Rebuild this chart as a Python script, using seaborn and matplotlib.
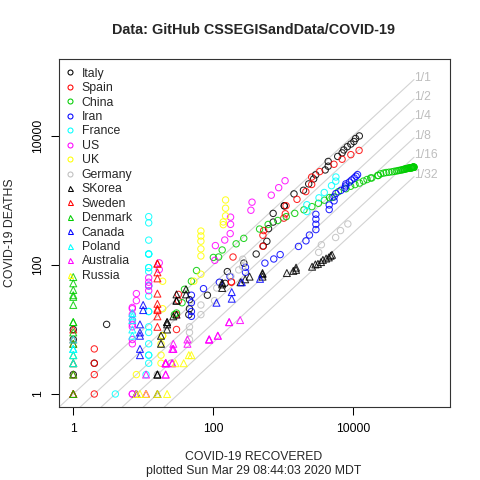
# COVID-19 deaths vs recovered, log-log, one series per country
import numpy as np
import pandas as pd
import matplotlib
matplotlib.use('Agg')
import matplotlib.pyplot as plt
from matplotlib.lines import Line2D
from matplotlib.ticker import NullLocator
import seaborn as sns

# Data (cumulative recovered, cumulative deaths)
rec_italy = [1, 2, 1, 1, 3, 45, 46, 46, 83, 149, 160, 276, 414, 523, 589, 622, 724, 724,
             1045, 1045, 1439, 1966, 2335, 2749, 2941, 4025, 4440, 4440, 6072, 7024, 7432,
             8326, 9362, 10361, 10950, 12384]
dea_italy = [2, 3, 7, 10, 12, 17, 21, 29, 34, 52, 79, 107, 148, 197, 233, 366, 463, 631,
             827, 827, 1266, 1441, 1809, 2158, 2503, 2978, 3405, 4032, 4825, 5476, 6077,
             6820, 7503, 8215, 9134, 10023]

rec_spain = [2, 2, 2, 2, 30, 30, 32, 32, 183, 183, 193, 517, 517, 530, 1028, 1081, 1107,
             1588, 2125, 2575, 2575, 3355, 5367, 7015, 9357, 12285]
dea_spain = [1, 2, 3, 5, 10, 17, 28, 35, 54, 55, 133, 195, 289, 342, 533, 623, 830,
             1043, 1375, 1772, 2311, 2808, 3647, 4365, 5138, 5982]

rec_china = [28, 30, 36, 39, 49, 58, 101, 120, 135, 214, 275, 463, 614, 843, 1115, 1476,
             1998, 2595, 3218, 3917, 4635, 5079, 6213, 7973, 9294, 10748, 12455, 14199,
             15952, 18002, 18693, 22687, 23170, 24990, 27650, 30053, 32898, 36291, 39279,
             42118, 44810, 47404, 49955, 52240, 53888, 55478, 57320, 58735, 60106, 61644,
             62901, 64196, 65660, 67017, 67910, 68798, 69755, 70535, 71266, 71857, 72362,
             72814, 73280, 73773, 74181, 74720, 75100]
dea_china = [17, 18, 26, 42, 56, 82, 131, 133, 171, 213, 259, 361, 425, 490, 562, 632,
             717, 804, 904, 1011, 1111, 1116, 1368, 1520, 1662, 1765, 1863, 2002,
             2114, 2236, 2236, 2441, 2443, 2593, 2663, 2715, 2744, 2788, 2835,
             2870, 2912, 2945, 2981, 3013, 3042, 3070, 3097, 3120, 3136, 3158,
             3169, 3176, 3189, 3199, 3213, 3226, 3237, 3245, 3249, 3253, 3259,
             3274, 3274, 3281, 3285, 3291, 3296]

rec_iran = [49, 49, 49, 49, 73, 123, 175, 291, 291, 552, 739, 913, 1669, 2134, 2394,
            2959, 2959, 2959, 2959, 4590, 4590, 5389, 5389, 5710, 6745, 7635, 7931, 7931,
            8913, 9625, 10457, 11133, 11679]
dea_iran = [16, 19, 26, 34, 43, 54, 66, 77, 92, 107, 124, 145, 194, 237, 291,
            354, 429, 514, 611, 724, 853, 988, 1135, 1284, 1433, 1556, 1685, 1812,
            1934, 2077, 2234, 2378, 2517]

rec_france = [4, 11, 12, 12, 12, 12, 12, 12, 12, 12, 12, 12, 12, 12, 12, 12, 12, 12, 12,
              12, 12, 12, 2200, 2200, 3281, 3900, 4948, 5700, 5724]
dea_france = [1, 2, 3, 4, 4, 6, 9, 11, 19, 19, 33, 48, 48, 79, 91, 91, 148, 148, 148,
              243, 450, 562, 674, 860, 1100, 1331, 1696, 1995, 2314]

rec_us = [7, 7, 7, 7, 7, 7, 7, 7, 7, 7, 8, 8, 12, 12, 12, 12, 17, 17, 106, 108, 147,
          176, 178, 178, 348, 361, 681, 869, 1072]
dea_us = [1, 1, 6, 7, 11, 12, 14, 17, 21, 22, 28, 36, 40, 47, 54, 63, 85, 108, 118, 200,
          244, 307, 427, 552, 706, 942, 1209, 1581, 2026]

rec_uk = [8, 18, 18, 18, 19, 19, 19, 19, 53, 67, 67, 67, 67, 67, 67, 140, 140, 151, 151, 151]
dea_uk = [2, 3, 4, 6, 8, 8, 21, 56, 56, 72, 138, 178, 234, 282, 336, 422, 465, 578, 759, 1019]

rec_germany = [16, 16, 25, 25, 46, 46, 46, 67, 67, 105, 113, 180, 233, 266, 266, 3243,
               3547, 5673, 6658, 8481]
dea_germany = [2, 2, 3, 3, 7, 9, 11, 17, 24, 28, 44, 67, 84, 94, 123, 157, 206, 267, 342, 433]

rec_skorea = [16, 16, 16, 18, 18, 22, 22, 22, 22, 27, 30, 30, 30, 30, 41, 41, 135, 135,
              135, 247, 288, 333, 510, 510, 510, 1137, 1407, 1540, 1540, 2612, 2909,
              3166, 3507, 3730, 4144, 4528, 4811, 5033]
dea_skorea = [1, 2, 2, 6, 8, 10, 12, 13, 13, 16, 17, 28, 28, 35, 35, 42, 44, 50, 53, 54,
              60, 66, 66, 72, 75, 75, 81, 84, 91, 94, 102, 104, 111, 120, 126, 131, 139, 144]

rec_sweden = [1, 1, 1, 1, 1, 1, 1, 1, 16, 16, 16, 16, 16, 16, 16, 16, 16, 16]
dea_sweden = [1, 1, 1, 2, 3, 6, 7, 10, 11, 16, 20, 21, 25, 36, 62, 77, 105, 105]

rec_denmark = [1, 1, 1, 1, 1, 1, 1, 1, 1, 1, 1, 1, 1, 1]
dea_denmark = [1, 2, 3, 4, 6, 9, 13, 13, 24, 32, 34, 41, 52, 65]

rec_canada = [8, 8, 8, 8, 9, 9, 9, 9, 9, 10, 10, 112, 185, 185, 258, 470]
dea_canada = [1, 1, 1, 1, 4, 5, 8, 9, 12, 20, 24, 26, 30, 38, 54, 61]

rec_poland = [1, 1, 1, 1, 1, 1, 7, 7, 7, 7, 7]
dea_poland = [3, 4, 5, 5, 5, 7, 8, 10, 14, 16, 18]

rec_australia = [8, 11, 11, 11, 11, 21, 21, 21, 21, 21, 21, 21, 26, 26, 26, 27, 27, 27,
                 43, 43, 88, 88, 88, 117, 117, 170, 170, 244]
dea_australia = [1, 1, 1, 1, 2, 2, 2, 3, 3, 3, 3, 3, 3, 3, 5, 5, 5, 6, 6, 7, 7, 7, 7,
                 8, 8, 13, 13, 14]

rec_russia = [8, 9, 11, 16, 22, 29, 38, 45, 49]
dea_russia = [1, 1, 1, 1, 1, 3, 3, 4, 4]

countries = ['Italy', 'Spain', 'China', 'Iran', 'France', 'US', 'UK', 'Germany',
             'SKorea', 'Sweden', 'Denmark', 'Canada', 'Poland', 'Australia', 'Russia']
recovered = [rec_italy, rec_spain, rec_china, rec_iran, rec_france, rec_us, rec_uk,
             rec_germany, rec_skorea, rec_sweden, rec_denmark, rec_canada, rec_poland,
             rec_australia, rec_russia]
deaths = [dea_italy, dea_spain, dea_china, dea_iran, dea_france, dea_us, dea_uk,
          dea_germany, dea_skorea, dea_sweden, dea_denmark, dea_canada, dea_poland,
          dea_australia, dea_russia]

ratio_den = [1, 2, 4, 8, 16, 32]
ratio_labels = ['1/1', '1/2', '1/4', '1/8', '1/16', '1/32']

# R default palette, circles for the first 8, triangles after
r_palette = ['black', '#FF0000', '#00CD00', '#0000FF', '#00FFFF', '#FF00FF', '#FFFF00', '#BEBEBE']
colors = [r_palette[i % 8] for i in range(len(countries))]
markers = ['o' if i < 8 else '^' for i in range(len(countries))]

df = pd.concat([pd.DataFrame({'country': c, 'recovered': r, 'deaths': d})
                for c, r, d in zip(countries, recovered, deaths)], ignore_index=True)

# Plot
sns.set_style('white')
plt.rcParams['font.family'] = ['Liberation Sans', 'DejaVu Sans']

fig = plt.figure(figsize=(4.8, 4.8), dpi=100)
ax = fig.add_axes([59 / 480, 73 / 480, 391 / 480, 348 / 480])
ax.set_xscale('log')
ax.set_yscale('log')

# reference lines deaths = recovered / k
xmax = df['recovered'].max()
for k, lab in zip(ratio_den, ratio_labels):
    ax.plot([0.3, xmax], [0.3 / k, xmax / k], color='#D3D3D3', lw=0.8, zorder=1)
    ax.text(xmax * 0.99, xmax / k * 1.07, lab, ha='left', va='center',
            color='#BEBEBE', fontsize=8.8, zorder=1)

for c, col, m in zip(countries, colors, markers):
    sub = df[df['country'] == c]
    sns.scatterplot(data=sub, x='recovered', y='deaths', ax=ax, marker=m,
                    s=21 if m == 'o' else 25, color=col, facecolor='none',
                    edgecolor=col, linewidth=0.75, alpha=0.85, legend=False, zorder=3)

ax.set_xlim(10 ** -0.204, 10 ** 5.39)
ax.set_ylim(10 ** -0.2016, 10 ** 5.194)
ax.set_xticks([1, 100, 10000], labels=['1', '100', '10000'])
ax.set_yticks([1, 100, 10000], labels=['1', '100', '10000'])
ax.xaxis.set_minor_locator(NullLocator())
ax.yaxis.set_minor_locator(NullLocator())
ax.tick_params(axis='both', direction='out', length=5.5, width=0.75, colors='black',
               labelsize=8.8, bottom=True, left=True)
ax.tick_params(axis='x', pad=6)
ax.tick_params(axis='y', pad=5, labelrotation=90)
for t in ax.get_yticklabels():
    t.set_va('center')
ax.set_xlabel('')
ax.set_ylabel('')
for sp in ax.spines.values():
    sp.set_color('#333333')
    sp.set_linewidth(0.8)

handles = [Line2D([], [], linestyle='none', marker=m, markersize=3.6,
                  markerfacecolor='none', markeredgecolor=col, markeredgewidth=0.75)
           for col, m in zip(colors, markers)]
ax.legend(handles, countries, loc='upper left', bbox_to_anchor=(0.013, 0.975),
          frameon=False, fontsize=8.8, borderaxespad=0, borderpad=0,
          handlelength=1.0, handletextpad=0.45, labelspacing=0.2)

fig.text(254 / 480, 1 - 30 / 480, 'Data: GitHub CSSEGISandData/COVID-19',
         ha='center', va='center', fontsize=10.4, fontweight='bold')
fig.text(254 / 480, 1 - 457 / 480, 'COVID-19 RECOVERED', ha='center', va='center', fontsize=8.8)
fig.text(254 / 480, 1 - 471 / 480, 'plotted Sun Mar 29 08:44:03 2020 MDT',
         ha='center', va='center', fontsize=8.8)
fig.text(10 / 480, 1 - 233 / 480, 'COVID-19 DEATHS', ha='center', va='center',
         rotation=90, fontsize=8.8)

fig.savefig('out.png', dpi=100)
